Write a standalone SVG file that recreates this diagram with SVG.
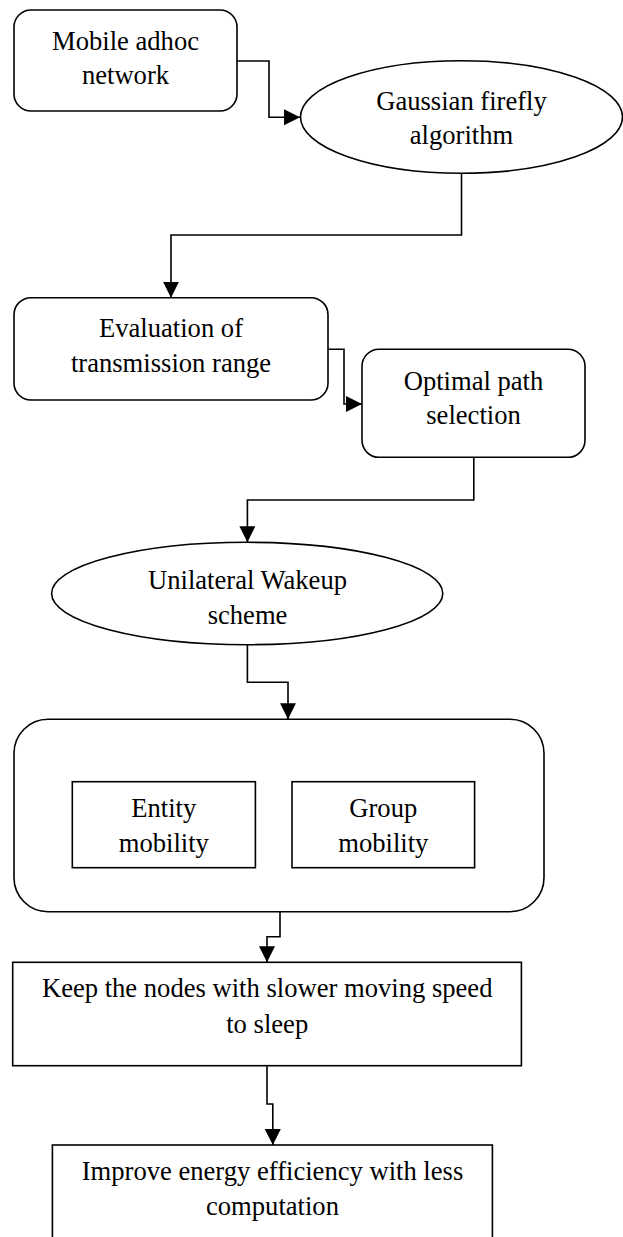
<svg xmlns="http://www.w3.org/2000/svg" width="623" height="1237" viewBox="0 0 623 1237">
<defs>
<style>
.shape{fill:#fff;stroke:#000;stroke-width:1.6}
.conn{fill:none;stroke:#000;stroke-width:1.6}
text{font-family:"Liberation Serif","Times New Roman",serif;font-size:26.6px;fill:#000;text-anchor:middle}
</style>
<marker id="arrow" markerUnits="userSpaceOnUse" markerWidth="16" markerHeight="16" refX="15" refY="7.5" orient="auto" viewBox="0 0 15 15">
<path d="M0,0 L15,7.5 L0,15 z" fill="#000"/>
</marker>
</defs>
<rect x="0" y="0" width="623" height="1237" fill="#fff"/>
<g id="connectors">
<path class="conn" d="M237,61 H269 V117.3 H300" marker-end="url(#arrow)"/>
<path class="conn" d="M461.5,173.3 V235 H171 V297.7" marker-end="url(#arrow)"/>
<path class="conn" d="M328,349.3 H344 V404 H362" marker-end="url(#arrow)"/>
<path class="conn" d="M473.8,457.3 V500 H247.4 V542.3" marker-end="url(#arrow)"/>
<path class="conn" d="M247.4,644.7 V682.3 H288 V719.3" marker-end="url(#arrow)"/>
<path class="conn" d="M280,911.7 V936.7 H267 V962.3" marker-end="url(#arrow)"/>
<path class="conn" d="M267,1065.7 V1104 H272.8 V1145" marker-end="url(#arrow)"/>
</g>
<g id="mobile-adhoc">
<rect class="shape" x="14" y="10" width="223" height="101" rx="17"/>
<text x="125.5" y="50">Mobile adhoc</text>
<text x="125.5" y="83.5">network</text>
</g>
<g id="gaussian-firefly">
<ellipse class="shape" cx="461.5" cy="117" rx="161" ry="56.3"/>
<text x="461.5" y="110">Gaussian firefly</text>
<text x="461.5" y="144">algorithm</text>
</g>
<g id="evaluation">
<rect class="shape" x="14" y="297.7" width="314" height="102.3" rx="17"/>
<text x="171" y="337">Evaluation of</text>
<text x="171" y="372">transmission range</text>
</g>
<g id="optimal-path">
<rect class="shape" x="362" y="349.3" width="223" height="108" rx="17"/>
<text x="473.5" y="390">Optimal path</text>
<text x="473.5" y="423.5">selection</text>
</g>
<g id="unilateral-wakeup">
<ellipse class="shape" cx="247.2" cy="593.5" rx="195.6" ry="51.2"/>
<text x="247.5" y="588.5">Unilateral Wakeup</text>
<text x="247.5" y="623.5">scheme</text>
</g>
<g id="mobility-group">
<rect class="shape" x="14" y="719.3" width="530" height="192.4" rx="34"/>
</g>
<g id="entity-mobility">
<rect class="shape" x="72.3" y="781.7" width="183.1" height="86"/>
<text x="163.8" y="817">Entity</text>
<text x="163.8" y="852">mobility</text>
</g>
<g id="group-mobility">
<rect class="shape" x="292" y="781.7" width="182.6" height="86"/>
<text x="383.3" y="817">Group</text>
<text x="383.3" y="852">mobility</text>
</g>
<g id="keep-nodes">
<rect class="shape" x="12.7" y="962.3" width="508.7" height="103.4"/>
<text x="267.2" y="997.3">Keep the nodes with slower moving speed</text>
<text x="267.2" y="1032.5">to sleep</text>
</g>
<g id="improve-energy">
<rect class="shape" x="52.4" y="1145" width="440" height="120"/>
<text x="272.5" y="1179.5">Improve energy efficiency with less</text>
<text x="272.5" y="1215">computation</text>
</g>
</svg>
